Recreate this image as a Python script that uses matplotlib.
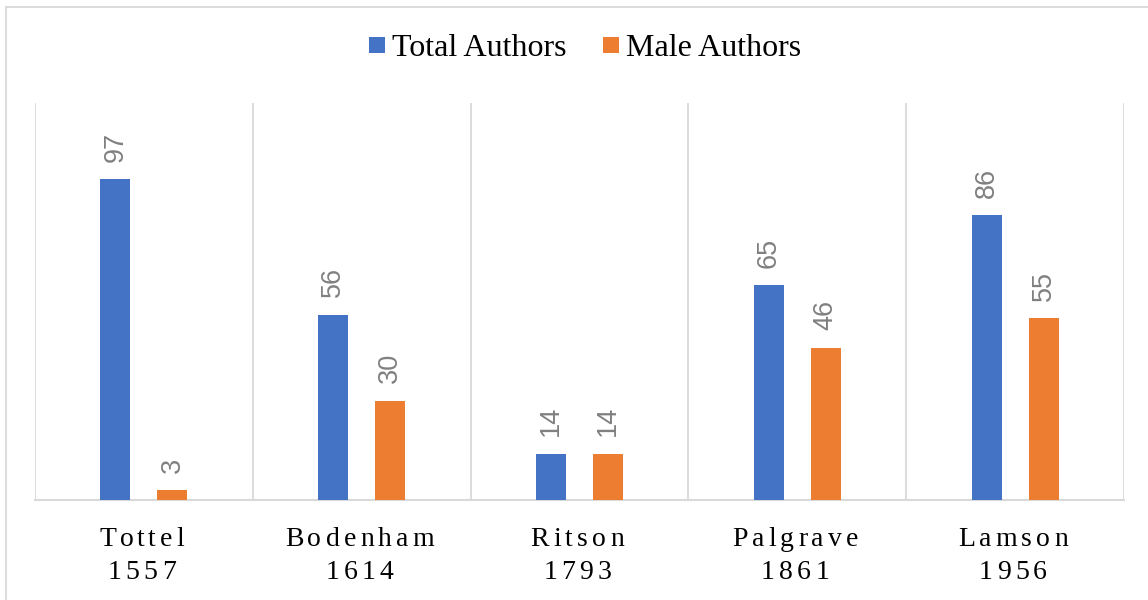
import matplotlib
matplotlib.use("Agg")
import matplotlib.pyplot as plt
from matplotlib.patches import Patch, Rectangle
from matplotlib.textpath import TextToPath
from matplotlib.font_manager import FontProperties
import numpy as np

# Data
anthologies = ["Tottel", "Bodenham", "Ritson", "Palgrave", "Lamson"]
years = ["1557", "1614", "1793", "1861", "1956"]
total_authors = [97, 56, 14, 65, 86]
male_authors = [3, 30, 14, 46, 55]

BLUE = "#4472C4"
ORANGE = "#ED7D31"
GRID = "#D9D9D9"
LABEL_GRAY = "#808080"

fig = plt.figure(figsize=(11.48, 6.0), dpi=100)
fig.patch.set_facecolor("white")

# Outer chart-area border (left and top edges visible)
fig.add_artist(Rectangle((5.5 / 1148, -0.1), 1.2, 1 - 7 / 600 + 0.1,
                         transform=fig.transFigure, fill=False,
                         edgecolor=GRID, linewidth=1.3))

ax = fig.add_axes([35 / 1148, 1 - 500 / 600, (1124 - 35) / 1148, (500 - 103) / 600])
x = np.arange(len(anthologies))
off, w = 0.131, 0.138

b1 = ax.bar(x - off, total_authors, width=w, color=BLUE, zorder=3)
b2 = ax.bar(x + off, male_authors, width=w, color=ORANGE, zorder=3)

ax.set_xlim(-0.5, len(anthologies) - 0.5)
ax.set_ylim(0, 120)

for s in ["top", "left", "right"]:
    ax.spines[s].set_visible(False)
ax.spines["bottom"].set_color(GRID)
ax.spines["bottom"].set_linewidth(1.5)
ax.set_yticks([])
ax.set_xticks([])

# Vertical separators between categories
for xb in np.arange(-0.5, len(anthologies), 1.0):
    ax.axvline(xb, color=GRID, linewidth=1.3, zorder=1)

# Value labels, rotated
for bars, vals in ((b1, total_authors), (b2, male_authors)):
    for rect, v in zip(bars, vals):
        ax.annotate(str(v), (rect.get_x() + rect.get_width() / 2, v),
                    xytext=(0, 12.5), textcoords="offset points",
                    rotation=90, ha="center", va="bottom",
                    fontsize=19.5, color=LABEL_GRAY, family="Liberation Sans")

# Letter-spaced category labels
serif = FontProperties(family="Liberation Serif", size=20)
ttp = TextToPath()


def spaced_text(xc, y_px, s, spacing_pt=3.0):
    widths = [ttp.get_text_width_height_descent(s[:i], serif, ismath=False)[0]
              if i > 0 else 0.0 for i in range(len(s) + 1)]
    total = widths[-1] + spacing_pt * (len(s) - 1)
    start = -total / 2
    for i, ch in enumerate(s):
        xo = start + widths[i] + spacing_pt * i
        ax.annotate(ch, (xc, 0), xycoords=("data", "axes fraction"),
                    xytext=(xo, -y_px * 72 / 100), textcoords="offset points",
                    ha="left", va="baseline", fontproperties=serif,
                    color="#000000", annotation_clip=False)


for xi, name, yr in zip(x, anthologies, years):
    spaced_text(xi - 0.01, 546 - 500, name)
    spaced_text(xi - 0.01, 579 - 500, yr)

handles = [Patch(facecolor=BLUE, label="Total Authors"),
           Patch(facecolor=ORANGE, label="Male Authors")]
fig.legend(handles=handles, loc="center", bbox_to_anchor=(585 / 1148, 1 - 49 / 600),
           ncol=2, frameon=False, prop=FontProperties(family="Liberation Serif", size=23),
           handlelength=0.5, handleheight=0.39, handletextpad=0.22, columnspacing=1.15,
           borderaxespad=0, borderpad=0)

fig.savefig("out.png", dpi=100, facecolor="white")
